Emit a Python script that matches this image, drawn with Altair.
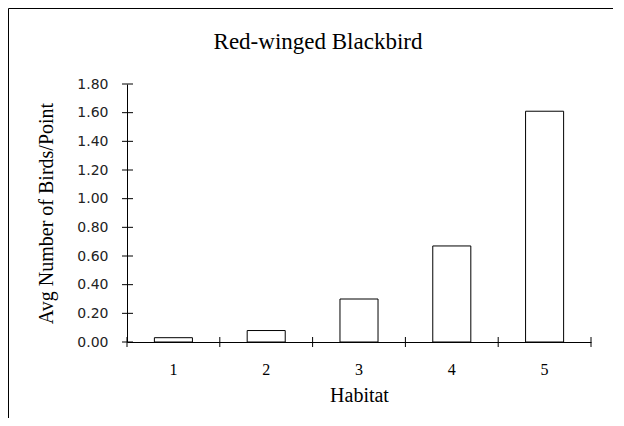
import altair as alt
import pandas as pd

habitats = ["1", "2", "3", "4", "5"]
avg_birds = [0.03, 0.08, 0.30, 0.67, 1.61]
y_ticks = [0.0, 0.2, 0.4, 0.6, 0.8, 1.0, 1.2, 1.4, 1.6, 1.8]

df = pd.DataFrame({"Habitat": habitats, "Avg": avg_birds})
ticks_df = pd.DataFrame({"v": y_ticks})

W, H = 464, 258
SERIF = "Liberation Serif"
SANS = "DejaVu Sans"

xscale = alt.Scale(paddingInner=0, paddingOuter=0)
yscale = alt.Scale(domain=[0, 1.8], nice=False, zero=True)

x_axis = alt.Axis(
    title="Habitat",
    labelAngle=0,
    ticks=False,
    domainColor="black",
    labelFont=SERIF,
    labelFontSize=16,
    labelColor="black",
    labelPadding=19,
    titleFont=SERIF,
    titleFontSize=20,
    titleFontWeight="normal",
    titleColor="black",
    titlePadding=8,
)
y_axis = alt.Axis(
    title="Avg Number of Birds/Point",
    values=y_ticks,
    format=".2f",
    grid=False,
    ticks=False,
    labelOverlap=False,
    domainColor="black",
    labelFont=SANS,
    labelFontSize=14,
    labelColor="#222222",
    labelPadding=19,
    titleFont=SERIF,
    titleFontSize=20,
    titleFontWeight="normal",
    titleColor="black",
    titlePadding=20,
)

bars = alt.Chart(df).mark_bar(
    fill="white", stroke="black", strokeWidth=1, width=alt.RelativeBandSize(0.41)
).encode(
    x=alt.X("Habitat:O", scale=xscale, axis=x_axis),
    y=alt.Y("Avg:Q", scale=yscale, axis=y_axis),
)

x_ticks = alt.Chart(df).mark_rule(color="black", strokeWidth=1).encode(
    x=alt.X("Habitat:O", bandPosition=0, scale=xscale, axis=x_axis),
    y=alt.value(H - 5),
    y2=alt.value(H + 5),
)
x_ticks_last = alt.Chart(df.tail(1)).mark_rule(color="black", strokeWidth=1).encode(
    x=alt.X("Habitat:O", bandPosition=1, scale=xscale, axis=x_axis),
    y=alt.value(H - 5),
    y2=alt.value(H + 5),
)
y_tick_marks = alt.Chart(ticks_df).mark_rule(color="black", strokeWidth=1).encode(
    y=alt.Y("v:Q", scale=yscale, axis=y_axis),
    x=alt.value(-5),
    x2=alt.value(6),
)
border_left = alt.Chart(df.head(1)).mark_rule(color="black", strokeWidth=1).encode(
    x=alt.value(-118.5),
    y=alt.value(-75.5),
    y2=alt.value(H + 76),
)
border_top = alt.Chart(df.head(1)).mark_rule(color="black", strokeWidth=1).encode(
    y=alt.value(-75.5),
    x=alt.value(-118.5),
    x2=alt.value(W + 22),
)

chart = alt.layer(
    bars, x_ticks, x_ticks_last, y_tick_marks, border_left, border_top
).properties(
    width=W,
    height=H,
    autosize=alt.AutoSizeParams(type="none"),
    padding={"left": 119, "top": 76, "right": 25, "bottom": 76},
    title=alt.Title(
        "Red-winged Blackbird",
        font=SERIF,
        fontSize=23,
        fontWeight="normal",
        color="black",
        anchor="middle",
        frame="group",
        baseline="alphabetic",
        dx=-41,
        dy=90,
        offset=26,
    ),
).configure(background="white").configure_view(strokeWidth=0)

chart.save("out.html", embed_options={"renderer": "svg", "actions": False})
